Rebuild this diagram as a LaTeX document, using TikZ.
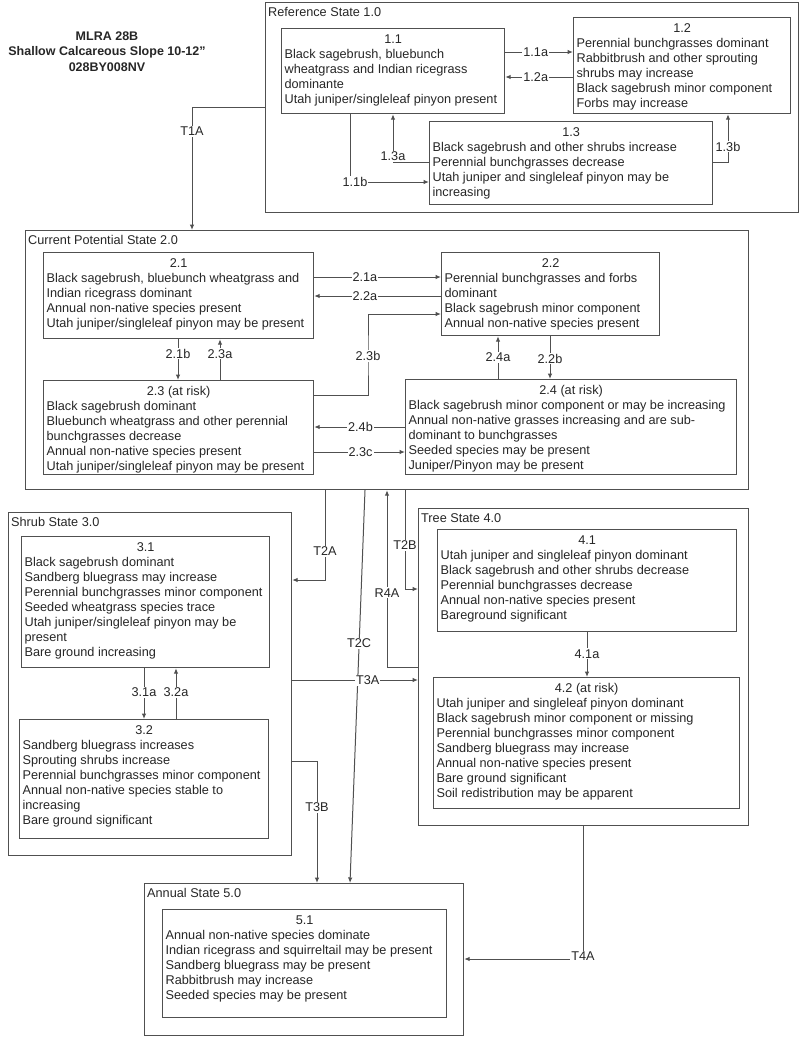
\documentclass[tikz,border=0pt]{standalone}
\usepackage{fontspec}
\setmainfont{Liberation Sans}
\usetikzlibrary{arrows.meta}
\definecolor{ln}{HTML}{505050}
\definecolor{tx}{HTML}{262626}
\newcommand{\stm}[4]{\parbox[c][#2pt][t]{\dimexpr#1pt-6pt\relax}{\centerline{\rule{0pt}{14.5pt}#3}#4}}
\newcommand{\lne}[1]{\hbox{#1}}
\begin{document}
\begin{tikzpicture}[x=1pt,y=-1pt,
 every node/.style={text=tx, font=\fontsize{12.7}{15.1}\selectfont},
 statebox/.style={draw=ln, line width=1.2pt, anchor=north west, inner sep=0pt},
 subbox/.style={draw=ln, line width=1.2pt, anchor=north west, inner xsep=3pt, inner ysep=0pt},
 arr/.style={draw=ln, line width=1pt, -{Latex[length=5.5pt,width=4.5pt]}},
 lbl/.style={fill=white, inner sep=1pt},
 stlbl/.style={anchor=north west, inner xsep=3pt, inner ysep=5pt}]
\useasboundingbox (0,0) rectangle (800,1037);

\node[font=\bfseries\fontsize{12.5}{15.5}\selectfont, align=center] (title) at (107,51.5) {MLRA 28B\\Shallow Calcareous Slope 10-12"\\028BY008NV};

% state containers
\node[statebox, minimum width=533pt, minimum height=210pt, label={[stlbl]north west:Reference State 1.0}] (s1) at (265,2) {};
\node[statebox, minimum width=723pt, minimum height=259pt, label={[stlbl]north west:Current Potential State 2.0}] (s2) at (25,230) {};
\node[statebox, minimum width=283pt, minimum height=343pt, label={[stlbl]north west:Shrub State 3.0}] (s3) at (8,512) {};
\node[statebox, minimum width=330pt, minimum height=317pt, label={[stlbl]north west:Tree State 4.0}] (s4) at (418,508) {};
\node[statebox, minimum width=319pt, minimum height=152pt, label={[stlbl]north west:Annual State 5.0}] (s5) at (144,883) {};

% community boxes
\node[subbox] (b11) at (281,28) {\stm{223}{85}{1.1}{\lne{Black sagebrush, bluebunch}\lne{wheatgrass and Indian ricegrass}\lne{dominante}\lne{Utah juniper/singleleaf pinyon present}}};
\node[subbox] (b12) at (573,17) {\stm{217}{96}{1.2}{\lne{Perennial bunchgrasses dominant}\lne{Rabbitbrush and other sprouting}\lne{shrubs may increase}\lne{Black sagebrush minor component}\lne{Forbs may increase}}};
\node[subbox] (b13) at (429,121) {\stm{283}{83}{1.3}{\lne{Black sagebrush and other shrubs increase}\lne{Perennial bunchgrasses decrease}\lne{Utah juniper and singleleaf pinyon may be}\lne{increasing}}};

\node[subbox] (b21) at (43,252) {\stm{270}{86}{2.1}{\lne{Black sagebrush, bluebunch wheatgrass and}\lne{Indian ricegrass dominant}\lne{Annual non-native species present}\lne{Utah juniper/singleleaf pinyon may be present}}};
\node[subbox] (b22) at (441,252) {\stm{218}{83}{2.2}{\lne{Perennial bunchgrasses and forbs}\lne{dominant}\lne{Black sagebrush minor component}\lne{Annual non-native species present}}};
\node[subbox] (b23) at (43,380) {\stm{270}{94}{2.3 (at risk)}{\lne{Black sagebrush dominant}\lne{Bluebunch wheatgrass and other perennial}\lne{bunchgrasses decrease}\lne{Annual non-native species present}\lne{Utah juniper/singleleaf pinyon may be present}}};
\node[subbox] (b24) at (405,379) {\stm{331}{95}{2.4 (at risk)}{\lne{Black sagebrush minor component or may be increasing}\lne{Annual non-native grasses increasing and are sub-}\lne{dominant to bunchgrasses}\lne{Seeded species may be present}\lne{Juniper/Pinyon may be present}}};

\node[subbox] (b31) at (21,536) {\stm{248}{131}{3.1}{\lne{Black sagebrush dominant}\lne{Sandberg bluegrass may increase}\lne{Perennial bunchgrasses minor component}\lne{Seeded wheatgrass species trace}\lne{Utah juniper/singleleaf pinyon may be}\lne{present}\lne{Bare ground increasing}}};
\node[subbox] (b32) at (19,719) {\stm{249}{119}{3.2}{\lne{Sandberg bluegrass increases}\lne{Sprouting shrubs increase}\lne{Perennial bunchgrasses minor component}\lne{Annual non-native species stable to}\lne{increasing}\lne{Bare ground significant}}};

\node[subbox] (b41) at (437,529) {\stm{299}{102}{4.1}{\lne{Utah juniper and singleleaf pinyon dominant}\lne{Black sagebrush and other shrubs decrease}\lne{Perennial bunchgrasses decrease}\lne{Annual non-native species present}\lne{Bareground significant}}};
\node[subbox] (b42) at (433,677) {\stm{306}{131}{4.2 (at risk)}{\lne{Utah juniper and singleleaf pinyon dominant}\lne{Black sagebrush minor component or missing}\lne{Perennial bunchgrasses minor component}\lne{Sandberg bluegrass may increase}\lne{Annual non-native species present}\lne{Bare ground significant}\lne{Soil redistribution may be apparent}}};

\node[subbox] (b51) at (162,909) {\stm{284}{108}{5.1}{\lne{Annual non-native species dominate}\lne{Indian ricegrass and squirreltail may be present}\lne{Sandberg bluegrass may be present}\lne{Rabbitbrush may increase}\lne{Seeded species may be present}}};

% reference state transitions
\draw[arr] (b11.east |- 0,52) -- node[lbl,pos=0.45]{1.1a} (b12.west |- 0,52);
\draw[arr] (b12.west |- 0,77) -- node[lbl,pos=0.55]{1.2a} (b11.east |- 0,77);
\draw[arr] (b13.west |- 0,162) -| node[lbl,pos=0.56]{1.3a} (b11.south -| 393,0);
\draw[arr] (b11.south -| 350,0) |- node[lbl,pos=0.5,xshift=5pt]{1.1b} (b13.west |- 0,182);
\draw[arr] (b13.east |- 0,162) -| node[lbl,pos=0.66]{1.3b} (b12.south -| 728,0);
\draw[arr] (s1.west |- 0,107) -| node[lbl,pos=0.6]{T1A} (s2.north -| 192,0);

% current potential state transitions
\draw[arr] (b21.east |- 0,277) -- node[lbl,pos=0.4]{2.1a} (b22.west |- 0,277);
\draw[arr] (b22.west |- 0,296) -- node[lbl,pos=0.6]{2.2a} (b21.east |- 0,296);
\draw[arr] (b23.east |- 0,395) -| (368,356) node[lbl]{2.3b} |- (b22.west |- 0,314);
\draw[arr] (b21.south -| 178,0) -- node[lbl,pos=0.35]{2.1b} (b23.north -| 178,0);
\draw[arr] (b23.north -| 220,0) -- node[lbl,pos=0.64]{2.3a} (b21.south -| 220,0);
\draw[arr] (b24.north -| 498,0) -- node[lbl,pos=0.5]{2.4a} (b22.south -| 498,0);
\draw[arr] (b22.south -| 550,0) -- node[lbl,pos=0.52]{2.2b} (b24.north -| 550,0);
\draw[arr] (b24.west |- 0,427) -- node[lbl,pos=0.49]{2.4b} (b23.east |- 0,427);
\draw[arr] (b23.east |- 0,452) -- node[lbl,pos=0.51]{2.3c} (b24.west |- 0,452);

% shrub and tree internal
\draw[arr] (b31.south -| 144,0) -- node[lbl,pos=0.48]{3.1a} (b32.north -| 144,0);
\draw[arr] (b32.north -| 176,0) -- node[lbl,pos=0.52]{3.2a} (b31.south -| 176,0);
\draw[arr] (b41.south -| 587,0) -- node[lbl,pos=0.48]{4.1a} (b42.north -| 587,0);

% state transitions
\draw[arr] (s2.south -| 325,0) |- node[lbl,pos=0.34]{T2A} (s3.east |- 0,580);
\draw[arr] (s2.south -| 405,0) |- node[lbl,pos=0.28]{T2B} (s4.west |- 0,589);
\draw[arr] (s4.west |- 0,667) -| node[lbl,pos=0.71]{R4A} (s2.south -| 387,0);
\draw[arr] (s2.south -| 365,0) -- node[lbl,pos=0.39]{T2C} (s5.north -| 350,0);
\draw[arr] (s3.east |- 0,680) -- node[lbl,pos=0.6]{T3A} (s4.west |- 0,680);
\draw[arr] (s3.east |- 0,761) -| node[lbl,pos=0.69]{T3B} (s5.north -| 317,0);
\draw[arr] (s4.south -| 583,0) |- node[lbl,pos=0.5,yshift=3pt]{T4A} (s5.east |- 0,959);
\end{tikzpicture}
\end{document}
